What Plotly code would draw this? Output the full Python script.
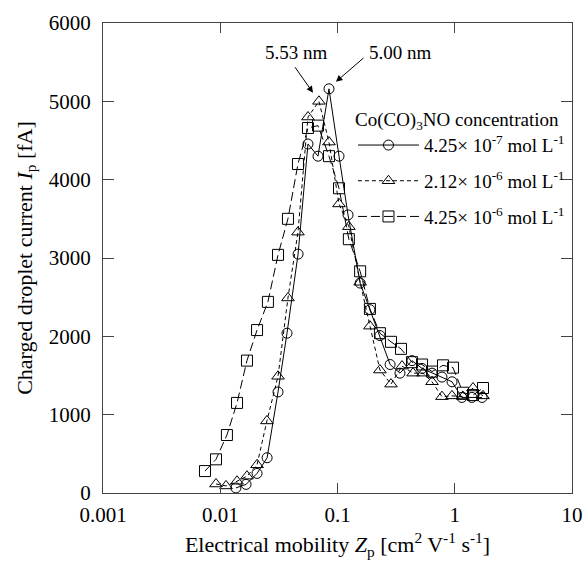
import math
import plotly.graph_objects as go

# ---- data ----
z_a = [0.0136, 0.0166, 0.0206, 0.0251, 0.0311, 0.0371, 0.0461, 0.056, 0.0682, 0.0846,
       0.103, 0.123, 0.156, 0.189, 0.230, 0.281, 0.341, 0.432, 0.526, 0.640,
       0.778, 0.948, 1.15, 1.40, 1.71]
i_a = [65, 110, 250, 450, 1290, 2040, 3050, 4455, 4300, 5160,
       4300, 3550, 2680, 2340, 2010, 1640, 1530, 1690, 1590, 1530,
       1480, 1420, 1220, 1220, 1220]

z_b = [0.0092, 0.0112, 0.0139, 0.0169, 0.0206, 0.0250, 0.0311, 0.0378, 0.0460, 0.0560,
       0.0695, 0.0846, 0.103, 0.125, 0.156, 0.189, 0.230, 0.286, 0.355, 0.441,
       0.536, 0.640, 0.778, 0.947, 1.176, 1.431, 1.742]
i_b = [115, 90, 150, 215, 360, 920, 1490, 2490, 3330, 4800,
       5000, 4480, 3690, 3400, 2690, 2130, 1570, 1390, 1620, 1530,
       1530, 1420, 1230, 1240, 1230, 1340, 1240]

z_c = [0.00741, 0.0092, 0.0114, 0.0139, 0.0169, 0.0206, 0.0255, 0.0311, 0.0378, 0.0460,
       0.0560, 0.0682, 0.0846, 0.103, 0.125, 0.156, 0.189, 0.230, 0.286, 0.348,
       0.432, 0.526, 0.640, 0.794, 0.966, 1.176, 1.431, 1.742]
i_c = [280, 430, 740, 1150, 1690, 2080, 2440, 3040, 3500, 4200,
       4660, 4690, 4300, 3890, 3240, 2830, 2350, 2040, 1930, 1840,
       1670, 1640, 1550, 1630, 1600, 1280, 1250, 1340]

names = ["4.25× 10<sup>-7</sup> mol L<sup>-1</sup>",
         "2.12× 10<sup>-6</sup> mol L<sup>-1</sup>",
         "4.25× 10<sup>-6</sup> mol L<sup>-1</sup>"]

x_tickvals = [0.001, 0.01, 0.1, 1, 10]
x_ticktext = ["0.001", "0.01", "0.1", "1", "10"]
y_tickvals = [0, 1000, 2000, 3000, 4000, 5000, 6000]

peak_labels = ["5.53 nm", "5.00 nm"]
peak_z = [0.0618, 0.097]
peak_i = [5110, 5250]

FONT = "Liberation Serif"
INK = "black"
AX = "#444444"

fig = go.Figure()
fig.add_trace(go.Scatter(
    x=z_a, y=i_a, name=names[0], mode="lines+markers", legendgroup="a",
    line=dict(color=INK, width=1),
    marker=dict(symbol="circle-open", size=10, color=INK, line=dict(width=1, color=INK))))
fig.add_trace(go.Scatter(
    x=z_b, y=i_b, name=names[1], mode="lines+markers", legendgroup="b",
    line=dict(color=INK, width=1, dash="4px,3px"),
    marker=dict(symbol="triangle-up-open", size=11, color=INK, line=dict(width=1, color=INK))))
fig.add_trace(go.Scatter(
    x=z_c, y=i_c, name=names[2], mode="lines+markers", legendgroup="c",
    line=dict(color=INK, width=1, dash="9px,4px"),
    marker=dict(symbol="square-open", size=11, color=INK, line=dict(width=1, color=INK))))

# arrows and peak labels (annotation x on a log axis is given in log10 units)
arrow_off = [(-19, -27), (29, -25)]
text_off = [(-16, 40), (65, 29)]
for k in range(2):
    lx = math.log10(peak_z[k])
    fig.add_annotation(x=lx, y=peak_i[k], xref="x", yref="y",
                       text="", showarrow=True, ax=arrow_off[k][0], ay=arrow_off[k][1],
                       arrowhead=2, arrowsize=1.3, arrowwidth=1, arrowcolor=INK)
    fig.add_annotation(x=lx, y=peak_i[k], xref="x", yref="y",
                       text=peak_labels[k], showarrow=False,
                       xshift=text_off[k][0], yshift=text_off[k][1],
                       font=dict(family=FONT, size=19, color=INK))

fig.update_layout(
    width=586, height=564,
    margin=dict(l=103, r=14, t=23, b=71),
    paper_bgcolor="white", plot_bgcolor="white",
    font=dict(family=FONT, size=21, color=INK),
    legend=dict(
        title=dict(text="Co(CO)<sub>3</sub>NO concentration",
                   font=dict(family=FONT, size=19, color=INK)),
        x=0.533, y=0.833, xanchor="left", yanchor="top",
        bgcolor="rgba(0,0,0,0)", font=dict(family=FONT, size=19, color=INK),
        tracegroupgap=8, itemwidth=61),
    xaxis=dict(
        type="log", range=[-3, 1], tickvals=x_tickvals, ticktext=x_ticktext,
        ticks="inside", ticklen=10, tickcolor=AX, showline=True, linecolor=AX,
        linewidth=1, mirror="ticks", showgrid=False, zeroline=False,
        automargin=False, ticklabelstandoff=3,
        tickfont=dict(family=FONT, size=21, color=INK),
        title=dict(text="Electrical mobility <i>Z</i><sub>p</sub> [cm<sup>2</sup> V<sup>-1</sup> s<sup>-1</sup>]",
                   font=dict(family=FONT, size=22, color=INK), standoff=10)),
    yaxis=dict(
        range=[0, 6000], tickvals=y_tickvals,
        ticks="inside", ticklen=11, tickcolor=AX, showline=True, linecolor=AX,
        linewidth=1, mirror="ticks", showgrid=False, zeroline=False,
        automargin=False, ticklabelstandoff=7,
        tickfont=dict(family=FONT, size=21, color=INK),
        title=dict(text="Charged droplet current <i>I</i><sub>p</sub> [fA]",
                   font=dict(family=FONT, size=22, color=INK), standoff=10)),
)

# remove the browser's default 8px page margin so the figure fills the window exactly
fig.write_html("out.html",
               config={"displayModeBar": False},
               post_script="document.body.style.margin='0';document.body.style.overflow='hidden';")
